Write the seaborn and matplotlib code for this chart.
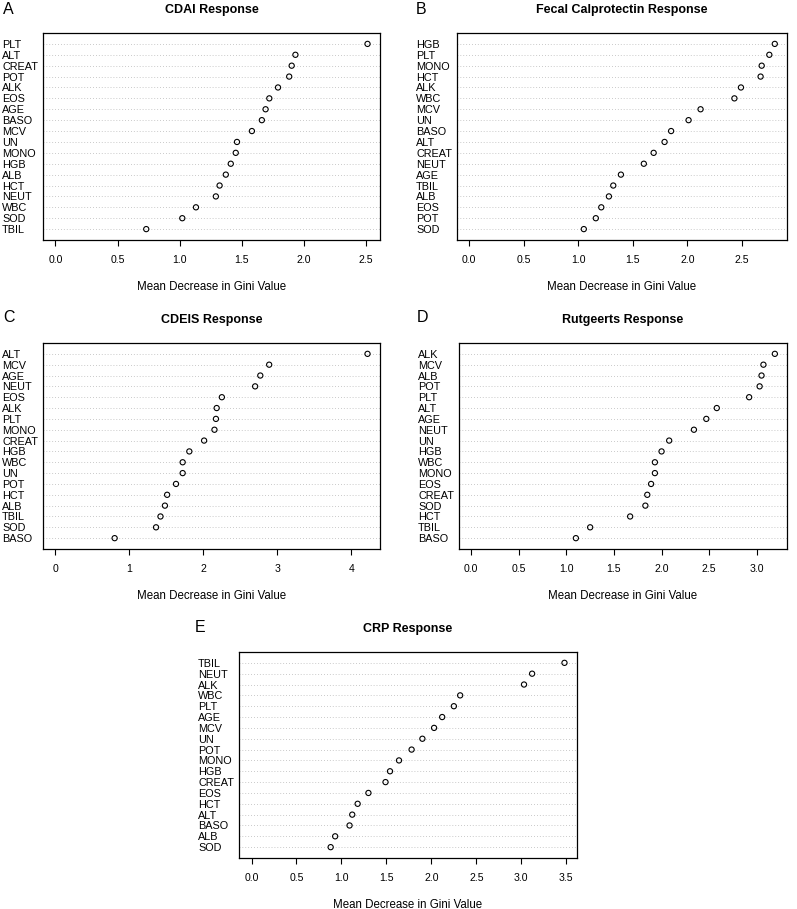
import numpy as np
import pandas as pd
import matplotlib
matplotlib.use("Agg")
import matplotlib.pyplot as plt
import seaborn as sns
from matplotlib.ticker import MultipleLocator, FormatStrFormatter

# Variable importance, one set of lists per panel (top to bottom order)
cdai_vars = ["PLT", "ALT", "CREAT", "POT", "ALK", "EOS", "AGE", "BASO", "MCV",
             "UN", "MONO", "HGB", "ALB", "HCT", "NEUT", "WBC", "SOD", "TBIL"]
cdai_gini = [2.51, 1.93, 1.90, 1.88, 1.79, 1.72, 1.69, 1.66, 1.58,
             1.46, 1.45, 1.41, 1.37, 1.32, 1.29, 1.13, 1.02, 0.73]

fcal_vars = ["HGB", "PLT", "MONO", "HCT", "ALK", "WBC", "MCV", "UN", "BASO",
             "ALT", "CREAT", "NEUT", "AGE", "TBIL", "ALB", "EOS", "POT", "SOD"]
fcal_gini = [2.80, 2.75, 2.68, 2.67, 2.49, 2.43, 2.12, 2.01, 1.85,
             1.79, 1.69, 1.60, 1.39, 1.32, 1.28, 1.21, 1.16, 1.05]

cdeis_vars = ["ALT", "MCV", "AGE", "NEUT", "EOS", "ALK", "PLT", "MONO", "CREAT",
              "HGB", "WBC", "UN", "POT", "HCT", "ALB", "TBIL", "SOD", "BASO"]
cdeis_gini = [4.22, 2.89, 2.77, 2.70, 2.25, 2.18, 2.17, 2.15, 2.01,
              1.81, 1.72, 1.72, 1.63, 1.51, 1.48, 1.42, 1.36, 0.80]

rutg_vars = ["ALK", "MCV", "ALB", "POT", "PLT", "ALT", "AGE", "NEUT", "UN",
             "HGB", "WBC", "MONO", "EOS", "CREAT", "SOD", "HCT", "TBIL", "BASO"]
rutg_gini = [3.19, 3.07, 3.05, 3.03, 2.92, 2.58, 2.47, 2.34, 2.08,
             2.00, 1.93, 1.93, 1.89, 1.85, 1.83, 1.67, 1.25, 1.10]

crp_vars = ["TBIL", "NEUT", "ALK", "WBC", "PLT", "AGE", "MCV", "UN", "POT",
            "MONO", "HGB", "CREAT", "EOS", "HCT", "ALT", "BASO", "ALB", "SOD"]
crp_gini = [3.48, 3.12, 3.03, 2.32, 2.25, 2.12, 2.03, 1.90, 1.78,
            1.64, 1.54, 1.49, 1.30, 1.18, 1.12, 1.09, 0.93, 0.88]

sns.set_style("white")
plt.rcParams["font.family"] = ["Liberation Sans", "DejaVu Sans"]
plt.rcParams.update({"text.color": "black", "axes.labelcolor": "black",
                     "xtick.color": "black", "ytick.color": "black"})

W, H = 797, 909
fig = plt.figure(figsize=(W / 100, H / 100), dpi=100)


def px_axes(x0, y0, x1, y1):
    return fig.add_axes([x0 / W, 1 - y1 / H, (x1 - x0) / W, (y1 - y0) / H])


def dotchart(ax, names, vals, title, step, fmt):
    n = len(names)
    df = pd.DataFrame({"var": names, "gini": vals, "pos": np.arange(n, 0, -1)})
    sns.scatterplot(data=df, x="gini", y="pos", ax=ax, marker="o", s=14,
                    facecolors="none", edgecolor="black", linewidth=0.8,
                    legend=False, zorder=3)
    m = max(vals)
    ax.set_xlim(-0.04 * m, 1.04 * m)
    ax.set_ylim(0, n + 1)
    ax.set_yticks(df["pos"])
    ax.set_yticklabels(names, fontsize=7.8, ha="left")
    ax.tick_params(axis="y", length=0, pad=29.5)
    ax.xaxis.set_major_locator(MultipleLocator(step))
    ax.xaxis.set_major_formatter(FormatStrFormatter(fmt))
    ax.tick_params(axis="x", direction="out", length=4, width=0.8,
                   pad=6.5, labelsize=7.6, bottom=True)
    ax.grid(axis="y", linestyle=(0, (1, 2.5)), color="#b8b8b8", linewidth=0.6)
    ax.grid(axis="x", visible=False)
    for sp in ax.spines.values():
        sp.set_color("black")
        sp.set_linewidth(0.9)
    ax.set_ylabel("")
    ax.set_xlabel("Mean Decrease in Gini Value", fontsize=8.3, labelpad=11.5)
    ax.set_title(title, fontsize=9, fontweight="bold", pad=14.5)
    return ax


axA = px_axes(43, 33, 380, 240)
dotchart(axA, cdai_vars, cdai_gini, "CDAI Response", 0.5, "%.1f")
axB = px_axes(457, 33, 787, 240)
dotchart(axB, fcal_vars, fcal_gini, "Fecal Calprotectin Response", 0.5, "%.1f")
axC = px_axes(43, 343, 380, 549)
dotchart(axC, cdeis_vars, cdeis_gini, "CDEIS Response", 1, "%d")
axD = px_axes(459, 343, 787, 549)
dotchart(axD, rutg_vars, rutg_gini, "Rutgeerts Response", 0.5, "%.1f")
axE = px_axes(239, 652, 577, 858)
dotchart(axE, crp_vars, crp_gini, "CRP Response", 0.5, "%.1f")

# panel letters
for lab, x, y in [("A", 3, 9), ("B", 416, 9), ("C", 3, 318), ("D", 417, 318), ("E", 195, 627)]:
    fig.text(x / W, 1 - y / H, lab, fontsize=11.5, ha="left", va="center")

fig.savefig("out.png", dpi=100)
